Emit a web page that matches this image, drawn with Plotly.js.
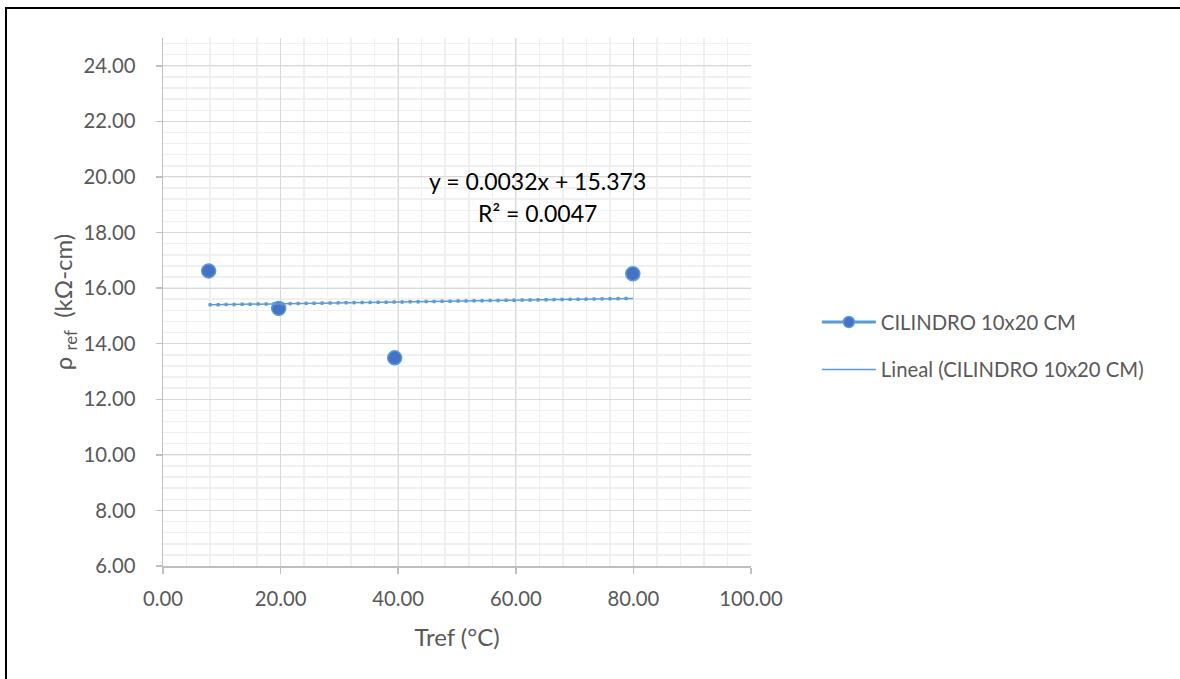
<!DOCTYPE html>
<html>
<head>
<meta charset="utf-8">
<script src="https://cdn.plot.ly/plotly-3.0.1.min.js"></script>
<style>
  html, body { margin: 0; padding: 0; background: #fff; }
  #wrap { position: relative; width: 1180px; height: 679px; overflow: hidden; }
  #chart { position: absolute; left: 0; top: 0; width: 1180px; height: 679px; }
  #frame { position: absolute; left: 5px; top: 7px; width: 1300px; height: 800px;
           border-left: 2.5px solid #000; border-top: 2.5px solid #000; pointer-events: none; }
</style>
</head>
<body>
<div id="wrap"><div id="chart"></div><div id="frame"></div></div>
<script>
// Data
var seriesName = "CILINDRO 10x20 CM";
var trendName = "Lineal (CILINDRO 10x20 CM)";
var tref = [7.76, 19.68, 39.4, 79.9];
var rho  = [16.62, 15.27, 13.49, 16.52];
var trendSlope = 0.0032;
var trendIntercept = 15.373;
var eqText = "y = 0.0032x + 15.373";
var r2Text = "R² = 0.0047";
var xTicks = [0, 20, 40, 60, 80, 100];
var yTicks = [6, 8, 10, 12, 14, 16, 18, 20, 22, 24];

var xMin = Math.min.apply(null, tref), xMax = Math.max.apply(null, tref);
var trendX = [xMin, xMax];
var trendY = trendX.map(function (v) { return trendSlope * v + trendIntercept; });

var FONT = "Lato, 'Open Sans', sans-serif";
var GREY = "#595959";

var traces = [
  { x: tref, y: rho, type: "scatter", mode: "markers", showlegend: false,
    marker: { size: 14, color: "#4472C4", line: { color: "#5B9BD5", width: 1.5 } },
    hoverinfo: "x+y" },
  { x: [null], y: [null], type: "scatter", mode: "lines+markers", name: seriesName,
    legendgroup: "a",
    line: { color: "#5B9BD5", width: 3 },
    marker: { size: 11, color: "#4472C4", line: { color: "#5B9BD5", width: 1.5 } } },
  { x: trendX, y: trendY, type: "scatter", mode: "lines", name: trendName,
    legendgroup: "b",
    line: { color: "#5B9BD5", width: 1.5 } },
  { x: trendX, y: trendY, type: "scatter", mode: "lines", showlegend: false,
    legendgroup: "b",
    line: { color: "#5B9BD5", width: 3.5, dash: "3px,5px" } }
];

var layout = {
  width: 1180, height: 679,
  margin: { l: 163, r: 429, t: 38, b: 113, pad: 0 },
  paper_bgcolor: "#fff", plot_bgcolor: "#fff",
  font: { family: FONT, size: 20, color: GREY },
  showlegend: true,
  legend: { x: 1.112, xanchor: "left", y: 0.417, yanchor: "middle",
            traceorder: "grouped", tracegroupgap: 18, itemwidth: 54,
            font: { family: FONT, size: 20.3, color: GREY }, bgcolor: "rgba(0,0,0,0)" },
  xaxis: {
    range: [0, 100], tickvals: xTicks, ticktext: xTicks.map(function (v) { return v.toFixed(2); }),
    showgrid: true, gridcolor: "#d9d9d9", gridwidth: 1,
    minor: { dtick: 4, tick0: 0, showgrid: true, gridcolor: "#f0f0f0", gridwidth: 1.5, ticks: "" },
    showline: true, linecolor: "#bfbfbf", linewidth: 1.5,
    ticks: "outside", ticklen: 6, tickcolor: "#bfbfbf", tickwidth: 1.5,
    zeroline: false, ticklabelstandoff: 8,
    tickfont: { family: FONT, size: 20.3, color: GREY },
    title: { text: "Tref (°C)", standoff: 20, font: { family: FONT, size: 24, color: GREY } }
  },
  yaxis: {
    range: [6, 25], tickvals: yTicks, ticktext: yTicks.map(function (v) { return v.toFixed(2); }),
    showgrid: true, gridcolor: "#d9d9d9", gridwidth: 1,
    minor: { dtick: 0.4, tick0: 6, showgrid: true, gridcolor: "#f0f0f0", gridwidth: 1.5, ticks: "" },
    showline: true, linecolor: "#bfbfbf", linewidth: 1.5,
    ticks: "outside", ticklen: 6, tickcolor: "#bfbfbf", tickwidth: 1.5,
    zeroline: false, ticklabelstandoff: 16,
    tickfont: { family: FONT, size: 20.3, color: GREY },
    title: { text: "ρ <sub>ref</sub>  (kΩ-cm)", standoff: 4, font: { family: FONT, size: 24, color: GREY } }
  },
  annotations: [
    { x: 63.66, y: 19.86, xref: "x", yref: "y", text: eqText, showarrow: false,
      xanchor: "center", yanchor: "middle", font: { family: FONT, size: 23, color: "#000" } },
    { x: 63.66, y: 18.72, xref: "x", yref: "y", text: r2Text, showarrow: false,
      xanchor: "center", yanchor: "middle", font: { family: FONT, size: 23, color: "#000" } }
  ]
};

Plotly.newPlot("chart", traces, layout, { displayModeBar: false, staticPlot: true });
</script>
</body>
</html>
